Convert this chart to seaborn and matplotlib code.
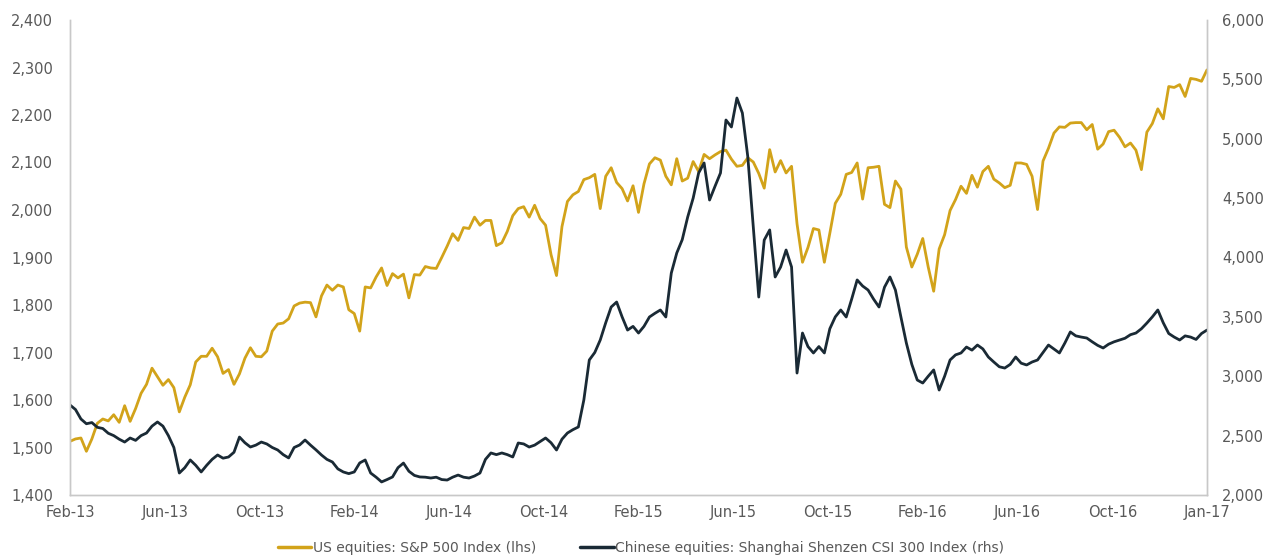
import matplotlib
matplotlib.use("Agg")
import matplotlib.pyplot as plt
import matplotlib.dates as mdates
from matplotlib.lines import Line2D
import seaborn as sns
import pandas as pd
import numpy as np

# ---------------- data ----------------
start_date = "2013-02-01"
end_date = "2017-01-27"
dates = pd.date_range(start_date, end_date, freq="W-FRI")

sp500 = [
    # 2013
    1513, 1518, 1520, 1492,
    1518, 1551, 1560, 1556, 1569,
    1553, 1588, 1555, 1582,
    1614, 1633, 1667, 1649, 1631,
    1643, 1626, 1575, 1606,
    1632, 1680, 1692, 1692,
    1709, 1691, 1656, 1664, 1633,
    1655, 1688, 1710, 1692,
    1691, 1703, 1745, 1760,
    1762, 1771, 1798, 1804, 1806,
    1805, 1775, 1819, 1842,
    # 2014
    1831, 1842, 1838, 1790, 1782,
    1745, 1838, 1836, 1859,
    1878, 1841, 1866, 1857,
    1865, 1815, 1864, 1863,
    1881, 1878, 1877, 1900, 1924,
    1950, 1936, 1963, 1961,
    1985, 1968, 1978, 1978,
    1925, 1931, 1955, 1988, 2003,
    2007, 1985, 2010, 1982,
    1968, 1906, 1862, 1965, 2018,
    2032, 2039, 2064, 2068,
    2075, 2003, 2071, 2089,
    # 2015
    2058, 2045, 2019, 2051, 1995,
    2055, 2097, 2110, 2105,
    2071, 2053, 2108, 2061,
    2067, 2102, 2081, 2117,
    2108, 2116, 2123, 2126, 2107,
    2092, 2094, 2110, 2101,
    2077, 2046, 2127, 2080, 2104,
    2078, 2092, 1971, 1890,
    1921, 1961, 1958, 1890,
    1951, 2014, 2033, 2075, 2079,
    2099, 2023, 2089, 2090,
    2092, 2012, 2005, 2061,
    # 2016
    2044, 1922, 1880, 1907, 1940,
    1880, 1829, 1918, 1948,
    1999, 2022, 2050, 2035,
    2073, 2048, 2081, 2092, 2065,
    2057, 2047, 2052, 2099,
    2099, 2096, 2071, 2001,
    2103, 2130, 2162, 2175, 2174,
    2183, 2184, 2184, 2169,
    2180, 2128, 2139, 2165, 2168,
    2153, 2133, 2141, 2126,
    2085, 2164, 2182, 2213,
    2192, 2260, 2258, 2264, 2239,
    # 2017
    2277, 2275, 2271, 2295,
]

csi300 = [
    2758, 2720, 2640, 2600, 2610, 2570, 2560, 2520, 2500, 2470,
    2446, 2480, 2460, 2500, 2522, 2580, 2615, 2580, 2500, 2400,
    2185, 2230, 2295, 2250, 2194, 2250, 2300, 2337, 2310, 2320,
    2360, 2488, 2440, 2404, 2420, 2446, 2430, 2400, 2379, 2340,
    2312, 2400, 2421, 2463, 2420, 2380, 2337, 2300, 2278, 2220,
    2194, 2180, 2194, 2270, 2295, 2185, 2150, 2110, 2130, 2152,
    2230, 2269, 2200, 2165, 2152, 2150, 2143, 2150, 2130, 2126,
    2150, 2168, 2150, 2143, 2160, 2185, 2300, 2354, 2340, 2354,
    2340, 2320, 2438, 2430, 2404, 2420, 2450, 2480, 2440, 2379,
    2470, 2522, 2550, 2573, 2800, 3137, 3200, 3305, 3450, 3583,
    3625, 3500, 3389, 3420, 3364, 3420, 3499, 3530, 3558, 3499,
    3869, 4038, 4150, 4341, 4500, 4712, 4796, 4484, 4600, 4712,
    5158, 5099, 5343, 5217, 4846, 4257, 3667, 4147, 4232, 3836,
    3920, 4063, 3920, 3027, 3364, 3250, 3196, 3250, 3196, 3400,
    3500, 3558, 3499, 3650, 3811, 3760, 3726, 3650, 3583, 3750,
    3836, 3726, 3500, 3280, 3100, 2968, 2943, 3000, 3053, 2884,
    3000, 3137, 3180, 3196, 3246, 3220, 3263, 3230, 3162, 3120,
    3080, 3069, 3100, 3162, 3110, 3095, 3120, 3137, 3200, 3263,
    3230, 3196, 3280, 3373, 3340, 3330, 3322, 3290, 3260, 3238,
    3270, 3290, 3305, 3320, 3350, 3364, 3400, 3448, 3500, 3558,
    3450, 3360, 3330, 3305, 3340, 3330, 3310, 3360, 3389,
]

x_tick_labels = ["Feb-13", "Jun-13", "Oct-13", "Feb-14", "Jun-14", "Oct-14",
                 "Feb-15", "Jun-15", "Oct-15", "Feb-16", "Jun-16", "Oct-16",
                 "Jan-17"]
left_ticks = [1400, 1500, 1600, 1700, 1800, 1900, 2000, 2100, 2200, 2300, 2400]
right_ticks = [2000, 2500, 3000, 3500, 4000, 4500, 5000, 5500, 6000]
series_names = ["US equities: S&P 500 Index (lhs)",
                "Chinese equities: Shanghai Shenzen CSI 300 Index (rhs)"]

# ---------------- style ----------------
sns.set_theme(style="white")
plt.rcParams["font.family"] = ["DejaVu Sans"]

gold = "#D2A31A"
navy = "#1A2A35"
grey_txt = "#595959"
spine_c = "#C8C8C8"

fig = plt.figure(figsize=(12.72, 5.58), dpi=100)
ax = fig.add_axes([70 / 1272, 1 - 495 / 558, (1207 - 70) / 1272, (495 - 20) / 558])
ax2 = ax.twinx()

df = pd.DataFrame({"date": dates, "sp": sp500, "csi": csi300})
sns.lineplot(data=df, x="date", y="sp", ax=ax, color=gold, linewidth=2.0)
sns.lineplot(data=df, x="date", y="csi", ax=ax2, color=navy, linewidth=2.0)

x0 = mdates.date2num(pd.Timestamp(start_date))
x1 = mdates.date2num(pd.Timestamp(end_date))
ax.set_xlim(x0, x1)
ax.set_xticks(np.linspace(x0, x1, len(x_tick_labels)))
ax.set_xticklabels(x_tick_labels)

ax.set_ylim(left_ticks[0], left_ticks[-1])
ax.set_yticks(left_ticks)
ax.set_yticklabels([f"{v:,}" for v in left_ticks])
ax2.set_ylim(right_ticks[0], right_ticks[-1])
ax2.set_yticks(right_ticks)
ax2.set_yticklabels([f"{v:,}" for v in right_ticks])

for a in (ax, ax2):
    a.set_xlabel("")
    a.set_ylabel("")
    a.grid(False)
    for s in a.spines.values():
        s.set_color(spine_c)
        s.set_linewidth(1.0)
    a.spines["top"].set_visible(False)

ax.tick_params(axis="y", length=0, pad=12, labelsize=10.5, labelcolor=grey_txt)
ax.tick_params(axis="x", length=0, pad=7, labelsize=10.5, labelcolor=grey_txt)
ax2.tick_params(axis="y", length=0, pad=11, labelsize=10.5, labelcolor=grey_txt)

handles = [Line2D([0], [0], color=gold, lw=2.5),
           Line2D([0], [0], color=navy, lw=2.5)]
fig.legend(handles, series_names, loc="center", bbox_to_anchor=(641 / 1272, 1 - 548 / 558),
           ncol=2, frameon=False, fontsize=10, handlelength=2.4, handletextpad=0.1,
           columnspacing=3.2, labelcolor=grey_txt)

fig.savefig("out.png", dpi=100, facecolor="white")
